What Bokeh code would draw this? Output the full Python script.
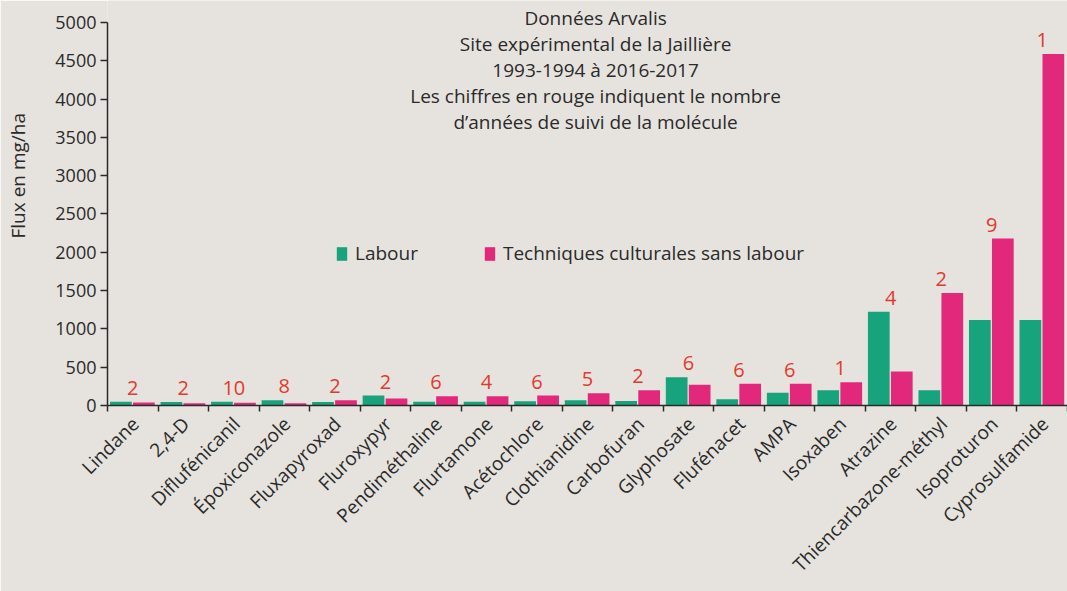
import numpy as np
from bokeh.plotting import figure
from bokeh.models import (ColumnDataSource, Range1d, FixedTicker, Label, Title)
from bokeh.transform import dodge
from bokeh.core.properties import value
from bokeh.embed import file_html
from bokeh.resources import INLINE

categories = ["Lindane", "2,4-D", "Diflufénicanil", "Époxiconazole", "Fluxapyroxad",
              "Fluroxypyr", "Pendiméthaline", "Flurtamone", "Acétochlore", "Clothianidine",
              "Carbofuran", "Glyphosate", "Flufénacet", "AMPA", "Isoxaben", "Atrazine",
              "Thiencarbazone-méthyl", "Isoproturon", "Cyprosulfamide"]
labour = [50, 45, 50, 70, 45, 130, 50, 50, 55, 70, 60, 370, 80, 165, 200, 1225, 200, 1115, 1115]
sans_labour = [40, 30, 35, 30, 70, 90, 120, 120, 130, 160, 200, 270, 285, 285, 305, 445, 1470, 2180, 4590]
annees = [2, 2, 10, 8, 2, 2, 6, 4, 6, 5, 2, 6, 6, 6, 1, 4, 2, 9, 1]
y_ticks = [0, 500, 1000, 1500, 2000, 2500, 3000, 3500, 4000, 4500, 5000]
titre = ("Données Arvalis\nSite expérimental de la Jaillière\n1993-1994 à 2016-2017\n"
         "Les chiffres en rouge indiquent le nombre\nd’années de suivi de la molécule")

BG = "#e6e3de"
GREEN = "#17a37b"
PINK = "#e2287b"
RED = "#e23a2e"
DARK = "#2a2a2a"
FONT = "Open Sans"

n = len(categories)
centers = [i + 0.5 for i in range(n)]
src = ColumnDataSource(dict(
    x=centers,
    labour=labour,
    sans=sans_labour,
    top=[max(a, b) for a, b in zip(labour, sans_labour)],
    annees=[str(a) for a in annees],
))

p = figure(width=1067, height=591, output_backend="svg", toolbar_location=None,
           x_range=Range1d(0, n), y_range=Range1d(0, 5287),
           min_border_left=105, min_border_right=0, min_border_top=0, min_border_bottom=186)
p.background_fill_color = BG
p.border_fill_color = BG
p.outline_line_color = None
p.grid.visible = False

p.vbar(x=dodge("x", -0.235, range=p.x_range), top="labour", width=0.43, source=src,
       fill_color=GREEN, line_color=None, legend_label="Labour")
p.vbar(x=dodge("x", 0.22, range=p.x_range), top="sans", width=0.43, source=src,
       fill_color=PINK, line_color=None, legend_label="Techniques culturales sans labour")

p.text(x="x", y="top", text="annees", source=src, text_color=RED,
       text_font=value(FONT), text_font_size="20px", text_align="center",
       text_baseline="bottom", y_offset=-7)

# axes
label_shift = 0.05
xa = p.xaxis[0]
xa.ticker = FixedTicker(ticks=[c + label_shift for c in centers], minor_ticks=list(range(n + 1)))
xa.major_label_overrides = {c + label_shift: name for c, name in zip(centers, categories)}
xa.major_label_orientation = np.pi / 4
xa.major_tick_line_color = None
xa.minor_tick_out = 6
xa.minor_tick_in = 0
xa.minor_tick_line_color = DARK
xa.minor_tick_line_width = 1.5
xa.axis_line_color = DARK
xa.axis_line_width = 1.5
xa.major_label_text_font = FONT
xa.major_label_text_font_size = "19px"
xa.major_label_text_color = DARK
xa.major_label_standoff = 9

ya = p.yaxis[0]
ya.ticker = FixedTicker(ticks=y_ticks)
ya.bounds = (0, 5000)
ya.minor_tick_line_color = None
ya.major_tick_out = 7
ya.major_tick_in = 0
ya.major_tick_line_color = DARK
ya.major_tick_line_width = 1.5
ya.axis_line_color = DARK
ya.axis_line_width = 1.5
ya.major_label_text_font = FONT
ya.major_label_text_font_size = "18px"
ya.major_label_text_color = DARK
ya.major_label_standoff = 4
ya.axis_label = " "
ya.axis_label_text_font_size = "10px"
ya.axis_label_standoff = 5

# legend
leg = p.legend[0]
leg.orientation = "horizontal"
leg.location = (228, 139)
leg.background_fill_alpha = 0
leg.border_line_color = None
leg.padding = 0
leg.margin = 0
leg.spacing = 65
leg.glyph_width = 13
leg.glyph_height = 17
leg.label_standoff = 7
leg.label_text_font = FONT
leg.label_text_font_size = "19px"
leg.label_text_color = DARK

# title block
p.add_layout(Label(x=9.66, y=4386, text=titre, text_align="center", text_baseline="middle",
                   text_font=FONT, text_font_size="19px", text_color=DARK,
                   text_line_height=1.0))

# y axis title
p.add_layout(Title(text="Flux en mg/ha", align="left", offset=167, standoff=5,
                   text_font=FONT, text_font_size="19px", text_color=DARK,
                   text_font_style="normal"), "left")

open("out.html", "w").write(file_html(p, INLINE))
